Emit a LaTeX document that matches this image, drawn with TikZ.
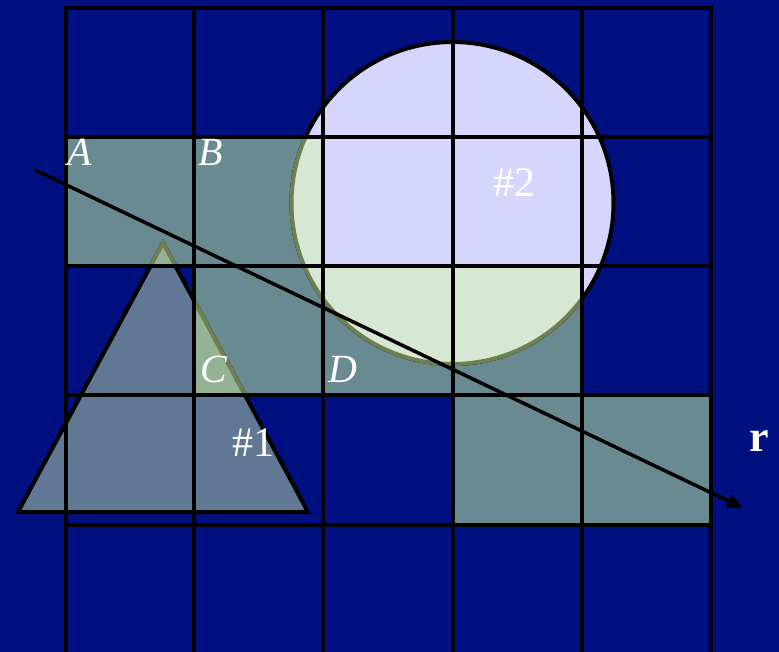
\documentclass[tikz,border=0pt]{standalone}
\usepackage{fontspec}
\setmainfont{Liberation Serif}
\usetikzlibrary{arrows.meta}
\definecolor{bgblue}{HTML}{001080}
\definecolor{cellteal}{HTML}{6A8A92}
\definecolor{triblue}{HTML}{617894}
\definecolor{lav}{HTML}{D6D6FC}
\definecolor{lgreen}{HTML}{D6E8D4}
\definecolor{tgreen}{HTML}{94B294}
\definecolor{olive}{HTML}{6E8050}
\tikzset{
  gridln/.style={line width=4pt, black},
  lbl/.style={text=white, anchor=base, inner sep=0pt, font=\fontsize{40}{40}\selectfont\itshape},
  numlbl/.style={text=white, anchor=base, inner sep=0pt, font=\fontsize{42}{42}\selectfont},
  raylbl/.style={text=white, anchor=base, inner sep=0pt, font=\fontsize{44}{44}\selectfont\bfseries},
  ray/.style={line width=3.5pt, black, -{Triangle[length=16pt,width=14pt]}},
}
\begin{document}
\begin{tikzpicture}[x=1pt,y=-1pt]
\useasboundingbox (0,0) rectangle (779,652);
\fill[bgblue] (0,0) rectangle (779,652);
% shaded cells
\def\shadedcells{(66,137) rectangle (323,266) (194,266) rectangle (582,395) (453,395) rectangle (711,524)}
\fill[cellteal] \shadedcells;
% shape 1 (triangle) and shape 2 (circle)
\filldraw[fill=triblue, draw=black, line width=4pt, line join=miter] (163,243) -- (18,512) -- (308,512) -- cycle;
\filldraw[fill=lav, draw=black, line width=4pt] (452.5,203) circle[radius=161];
% overlaps with shaded cells
\begin{scope}
  \clip \shadedcells;
  \filldraw[fill=tgreen, draw=olive, line width=4pt] (163,243) -- (18,512) -- (308,512) -- cycle;
  \filldraw[fill=lgreen, draw=olive, line width=4pt] (452.5,203) circle[radius=161];
\end{scope}
% grid
\foreach \x in {66,194,323,453,582,711} \draw[gridln] (\x,8) -- (\x,652);
\foreach \y in {8,137,266,395,525} \draw[gridln] (64,\y) -- (713,\y);
% ray
\coordinate (rs) at (35,170);
\coordinate (re) at (743,508);
\draw[ray] (rs) -- (re);
% labels
\node[lbl] (la) at (80,166) {A};
\node[lbl] (lb) at (211,166) {B};
\node[lbl] (lc) at (214,382) {C};
\node[lbl] (ld) at (343,382) {D};
\node[numlbl] (n1) at (253,456) {\#1};
\node[numlbl] (n2) at (514,197) {\#2};
\node[raylbl] (lr) at (759,451) {r};
\end{tikzpicture}
\end{document}
